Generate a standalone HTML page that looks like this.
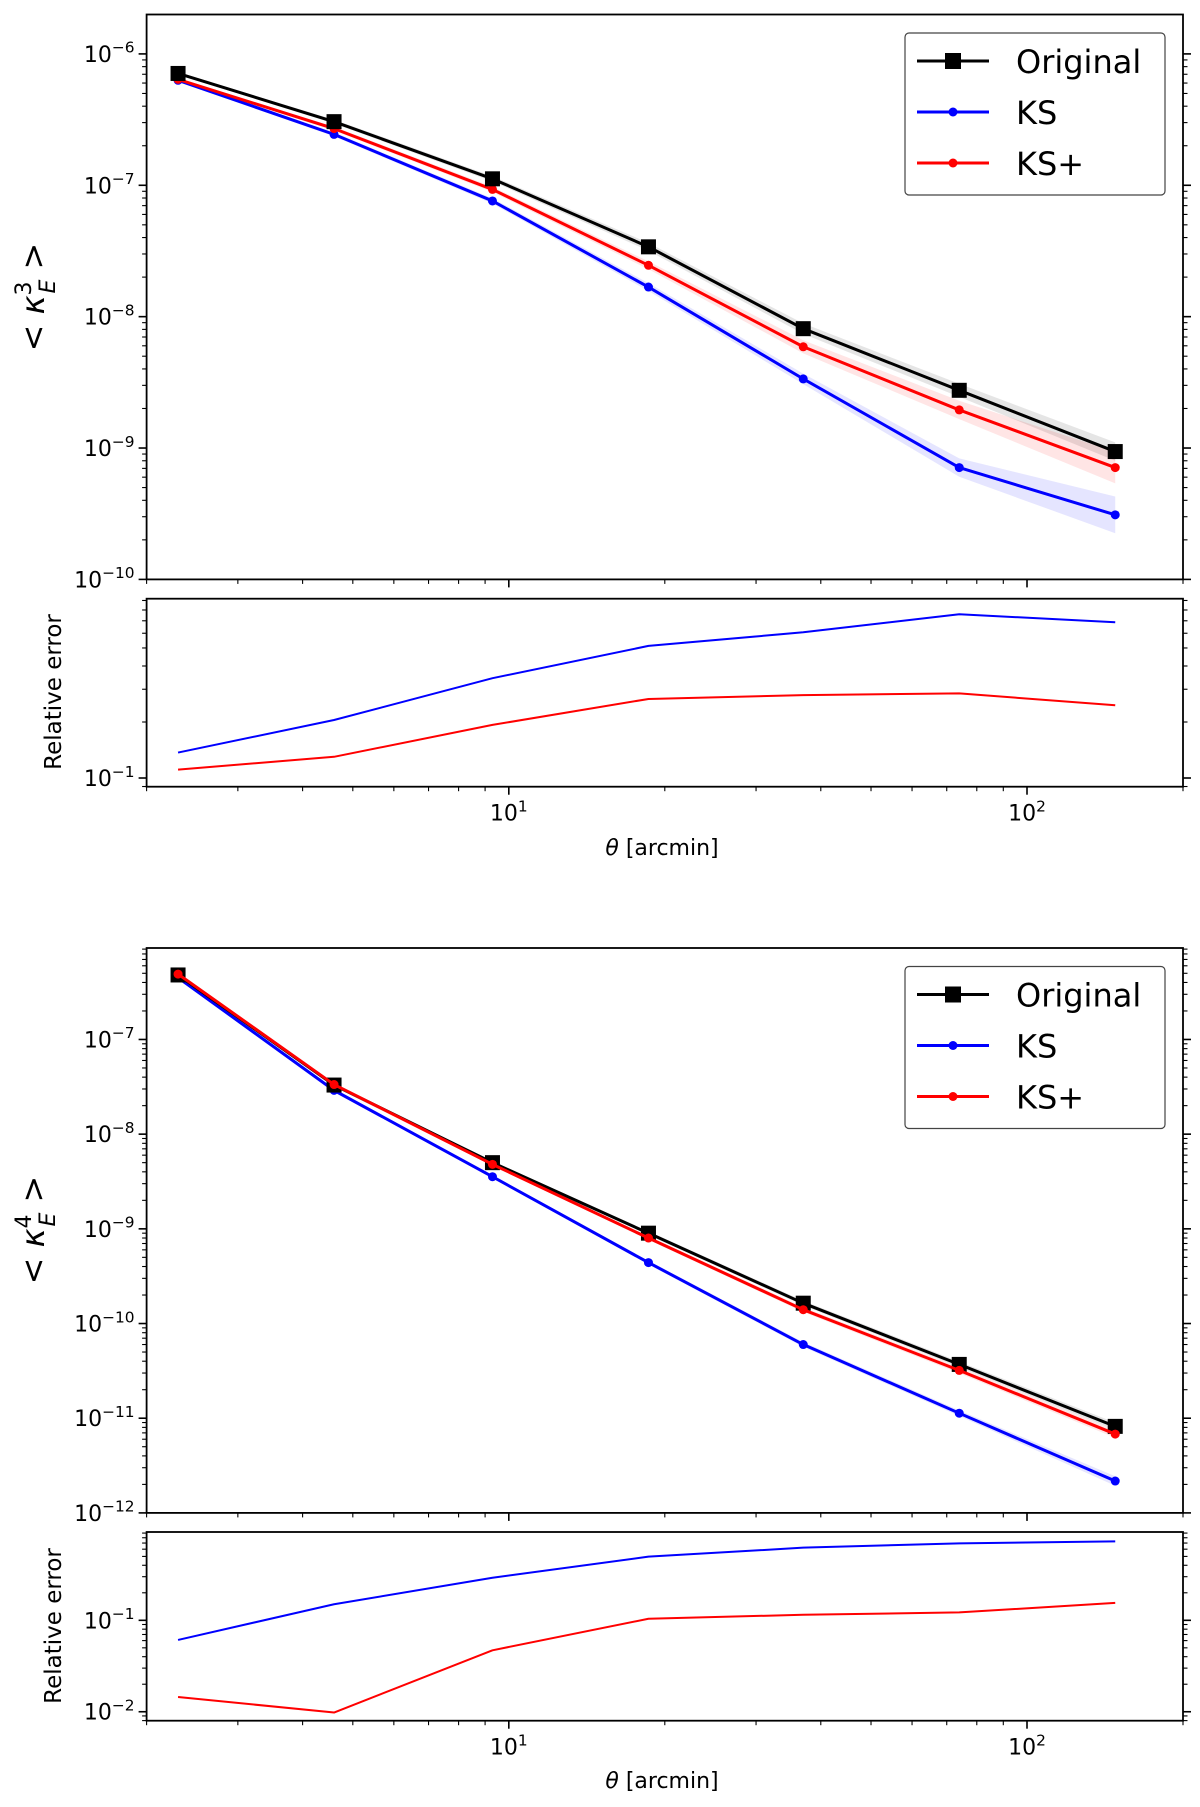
<!DOCTYPE html>
<html><head><meta charset="utf-8"><style>
html,body{margin:0;padding:0;background:#fff;}
svg{display:block;font-family:"DejaVu Sans","Liberation Sans",sans-serif;}
</style></head><body>
<svg id="chart" width="1200" height="1807" viewBox="0 0 1200 1807" xmlns="http://www.w3.org/2000/svg"></svg>
<script>
// ---- shared x data (theta in arcmin) ----
const theta = [2.3, 4.6, 9.3, 18.6, 37, 74, 148];
// ---- figure 1: kappa^3 ----
const k3Original = [7.1e-7, 3.05e-7, 1.12e-7, 3.4e-8, 8.1e-9, 2.75e-9, 9.4e-10];
const k3KS = [6.3e-7, 2.44e-7, 7.6e-8, 1.68e-8, 3.36e-9, 7.1e-10, 3.1e-10];
const k3KSplus = [6.4e-7, 2.7e-7, 9.3e-8, 2.46e-8, 5.9e-9, 1.95e-9, 7.1e-10];
const k3BandOriginal = [0.01, 0.015, 0.02, 0.03, 0.04, 0.05, 0.07];
const k3BandKS = [0.01, 0.015, 0.02, 0.03, 0.04, 0.07, 0.14];
const k3BandKSplus = [0.01, 0.015, 0.02, 0.03, 0.05, 0.07, 0.12];
const k3RelKS = [0.137, 0.205, 0.344, 0.513, 0.607, 0.759, 0.687];
const k3RelKSplus = [0.111, 0.130, 0.193, 0.266, 0.279, 0.285, 0.246];
// ---- figure 2: kappa^4 ----
const k4Original = [4.8e-7, 3.3e-8, 5.0e-9, 9.0e-10, 1.64e-10, 3.7e-11, 8.2e-12];
const k4KS = [4.5e-7, 2.9e-8, 3.55e-9, 4.4e-10, 6.0e-11, 1.13e-11, 2.17e-12];
const k4KSplus = [4.9e-7, 3.34e-8, 4.8e-9, 8.0e-10, 1.4e-10, 3.2e-11, 6.8e-12];
const k4BandOriginal = [0.01, 0.01, 0.015, 0.02, 0.025, 0.03, 0.04];
const k4BandKS = [0.01, 0.01, 0.015, 0.02, 0.025, 0.03, 0.05];
const k4BandKSplus = [0.01, 0.01, 0.015, 0.02, 0.025, 0.03, 0.04];
const k4RelKS = [0.061, 0.150, 0.292, 0.497, 0.623, 0.695, 0.731];
const k4RelKSplus = [0.0145, 0.0098, 0.047, 0.104, 0.115, 0.122, 0.155];
// ---- tick labels ----
const xTickDecades = [1, 2];
const k3Decades = [-6, -7, -8, -9, -10];
const k4Decades = [-7, -8, -9, -10, -11, -12];
const rel1Decades = [-1];
const rel2Decades = [-1, -2];

const NS = "http://www.w3.org/2000/svg";
const svg = document.getElementById('chart');
function mk(tag, attrs, parent) {
  const e = document.createElementNS(NS, tag);
  for (const k in attrs) e.setAttribute(k, attrs[k]);
  (parent || svg).appendChild(e);
  return e;
}
const X0 = 146.6, X1 = 1183, XMIN = Math.log10(2), XMAX = Math.log10(200);
function xs(v) { return X0 + (Math.log10(v) - XMIN) / (XMAX - XMIN) * (X1 - X0); }
function makeY(top, bottom, lmin, lmax) {
  return v => bottom - (Math.log10(v) - lmin) / (lmax - lmin) * (bottom - top);
}
function supLabel(g, x, y, exp, size, anchor) {
  const t = mk('text', {x: x, y: y, 'font-size': size, 'text-anchor': anchor || 'end', fill: '#000'}, g);
  
  
  t.appendChild(document.createTextNode('10'));
  const s = mk('tspan', {dy: -size * 0.42, 'font-size': size * 0.7}, t);
  s.textContent = String(exp).replace('-', '\u2212');
  return t;
}
function axes(name, top, bottom, lmin, lmax, decades, showX) {
  const g = mk('g', {});
  
  
  const ys = makeY(top, bottom, lmin, lmax);
  for (let d = Math.floor(lmin); d <= Math.ceil(lmax); d++) {
    for (let m = 1; m <= 9; m++) {
      const v = m * Math.pow(10, d);
      const lv = Math.log10(v);
      if (lv < lmin - 1e-9 || lv > lmax + 1e-9) continue;
      const y = ys(v), L = m === 1 ? 8 : 4.5;
      mk('line', {x1: X0 - L, x2: X0, y1: y, y2: y, stroke: '#000', 'stroke-width': m === 1 ? 1.6 : 1.1}, g);
      mk('line', {x1: X1, x2: X1 + L, y1: y, y2: y, stroke: '#000', 'stroke-width': m === 1 ? 1.6 : 1.1}, g);
    }
  }
  decades.forEach(d => { supLabel(g, X0 - 12, ys(Math.pow(10, d)) + 8, d, 22); });
  for (let d = 0; d <= 2; d++) {
    for (let m = 1; m <= 9; m++) {
      const v = m * Math.pow(10, d);
      if (v < 2 - 1e-9 || v > 200 + 1e-9) continue;
      const x = xs(v), L = m === 1 ? 8 : 4.5;
      mk('line', {x1: x, x2: x, y1: bottom, y2: bottom + L, stroke: '#000', 'stroke-width': m === 1 ? 1.6 : 1.1}, g);
    }
  }
  if (showX) xTickDecades.forEach(d => {
    supLabel(g, xs(Math.pow(10, d)), bottom + 34, d, 22, 'middle');
  });
  mk('rect', {x: X0, y: top, width: X1 - X0, height: bottom - top, fill: 'none', stroke: '#000', 'stroke-width': 1.8}, g);
  return ys;
}
function band(ys, vals, sig, color, name) {
  let up = '', lo = '';
  vals.forEach((v, i) => { up += (i ? 'L' : 'M') + xs(theta[i]) + ',' + ys(v * Math.pow(10, sig[i])); });
  for (let i = vals.length - 1; i >= 0; i--) lo += 'L' + xs(theta[i]) + ',' + ys(vals[i] / Math.pow(10, sig[i]));
  const p = mk('path', {d: up + lo + 'Z', fill: color, 'fill-opacity': 0.1, stroke: 'none'});
  
  
}
function series(ys, vals, color, width, marker, name) {
  const g = mk('g', {});
  
  
  const pts = vals.map((v, i) => xs(theta[i]) + ',' + ys(v)).join(' ');
  mk('polyline', {points: pts, fill: 'none', stroke: color, 'stroke-width': width, 'stroke-linejoin': 'round'}, g);
  vals.forEach((v, i) => {
    const x = xs(theta[i]), y = ys(v);
    let m;
    if (marker === 'square') m = mk('rect', {x: x - 7.5, y: y - 7.5, width: 15, height: 15, fill: color}, g);
    else if (marker === 'circle') m = mk('circle', {cx: x, cy: y, r: 4.5, fill: color}, g);
    if (m) {
      
      
    }
  });
}
function legend(top, name) {
  const g = mk('g', {});
  
  
  mk('rect', {x: 905, y: top, width: 260, height: 162, rx: 4, fill: '#fff', 'fill-opacity': 0.9, stroke: '#444', 'stroke-width': 1.2}, g);
  const ent = [['Original', '#000', 'square'], ['KS', '#0000ff', 'circle'], ['KS+', '#ff0000', 'circle']];
  ent.forEach((e, i) => {
    const y = top + 28 + i * 51;
    const eg = mk('g', {}, g);
    
    
    mk('line', {x1: 917, x2: 989, y1: y, y2: y, stroke: e[1], 'stroke-width': 3}, eg);
    if (e[2] === 'square') mk('rect', {x: 945, y: y - 8, width: 16, height: 16, fill: e[1]}, eg);
    else mk('circle', {cx: 953, cy: y, r: 4.5, fill: e[1]}, eg);
    const t = mk('text', {x: 1016, y: y + 12, 'font-size': 32, fill: '#000'}, eg);
    t.textContent = e[0];
  });
}
function ylabelKappa(cy, n, name) {
  const t = mk('text', {x: 0, y: 0, 'font-size': 32, 'text-anchor': 'middle', transform: 'translate(44,' + cy + ') rotate(-90)'});
  
  
  t.appendChild(document.createTextNode('< '));
  const k = mk('tspan', {'font-style': 'italic'}, t); k.textContent = '\u03ba';
  const s = mk('tspan', {dy: -13, 'font-size': 22}, t); s.textContent = n;
  const e = mk('tspan', {dx: -12, dy: 24, 'font-size': 22, 'font-style': 'italic'}, t); e.textContent = 'E';
  const c = mk('tspan', {dy: -11}, t); c.textContent = ' >';
}
function ylabelRel(cy, name) {
  const t = mk('text', {x: 0, y: 0, 'font-size': 23, 'text-anchor': 'middle', transform: 'translate(61,' + cy + ') rotate(-90)'});
  
  
  t.textContent = 'Relative error';
}
function xlabel(y, name) {
  const t = mk('text', {x: 662, y: y, 'font-size': 22, 'text-anchor': 'middle'});
  
  
  const th = mk('tspan', {'font-style': 'italic'}, t); th.textContent = '\u03b8';
  t.appendChild(document.createTextNode(' [arcmin]'));
}

// ---- Figure 1 ----
const y1 = axes('k3-main-axes', 14.5, 579.4, -10, -5.70, k3Decades, false);
band(y1, k3Original, k3BandOriginal, '#000', 'k3-original-band');
band(y1, k3KS, k3BandKS, '#0000ff', 'k3-ks-band');
band(y1, k3KSplus, k3BandKSplus, '#ff0000', 'k3-ksplus-band');
series(y1, k3KS, '#0000ff', 3, 'circle', 'k3-ks-line');
series(y1, k3KSplus, '#ff0000', 3, 'circle', 'k3-ksplus-line');
series(y1, k3Original, '#000', 3, 'square', 'k3-original-line');
legend(33, 'k3-legend');
ylabelKappa(297, '3', 'k3-y-axis-title');
const r1 = axes('k3-rel-axes', 598.7, 786.7, Math.log10(0.0898), Math.log10(0.92), rel1Decades, true);
series(r1, k3RelKS, '#0000ff', 2, null, 'k3-rel-ks-line');
series(r1, k3RelKSplus, '#ff0000', 2, null, 'k3-rel-ksplus-line');
ylabelRel(692, 'k3-rel-y-axis-title');
xlabel(855, 'k3-x-axis-title');

// ---- Figure 2 ----
const y2 = axes('k4-main-axes', 948, 1512.9, -12, -6.034, k4Decades, false);
band(y2, k4Original, k4BandOriginal, '#000', 'k4-original-band');
band(y2, k4KS, k4BandKS, '#0000ff', 'k4-ks-band');
band(y2, k4KSplus, k4BandKSplus, '#ff0000', 'k4-ksplus-band');
series(y2, k4KS, '#0000ff', 3, 'circle', 'k4-ks-line');
series(y2, k4Original, '#000', 3, 'square', 'k4-original-line');
series(y2, k4KSplus, '#ff0000', 3, 'circle', 'k4-ksplus-line');
legend(966.5, 'k4-legend');
ylabelKappa(1230, '4', 'k4-y-axis-title');
const r2 = axes('k4-rel-axes', 1532, 1720.7, -2.098, -0.034, rel2Decades, true);
series(r2, k4RelKS, '#0000ff', 2, null, 'k4-rel-ks-line');
series(r2, k4RelKSplus, '#ff0000', 2, null, 'k4-rel-ksplus-line');
ylabelRel(1626, 'k4-rel-y-axis-title');
xlabel(1788, 'k4-x-axis-title');
</script>
</body></html>
